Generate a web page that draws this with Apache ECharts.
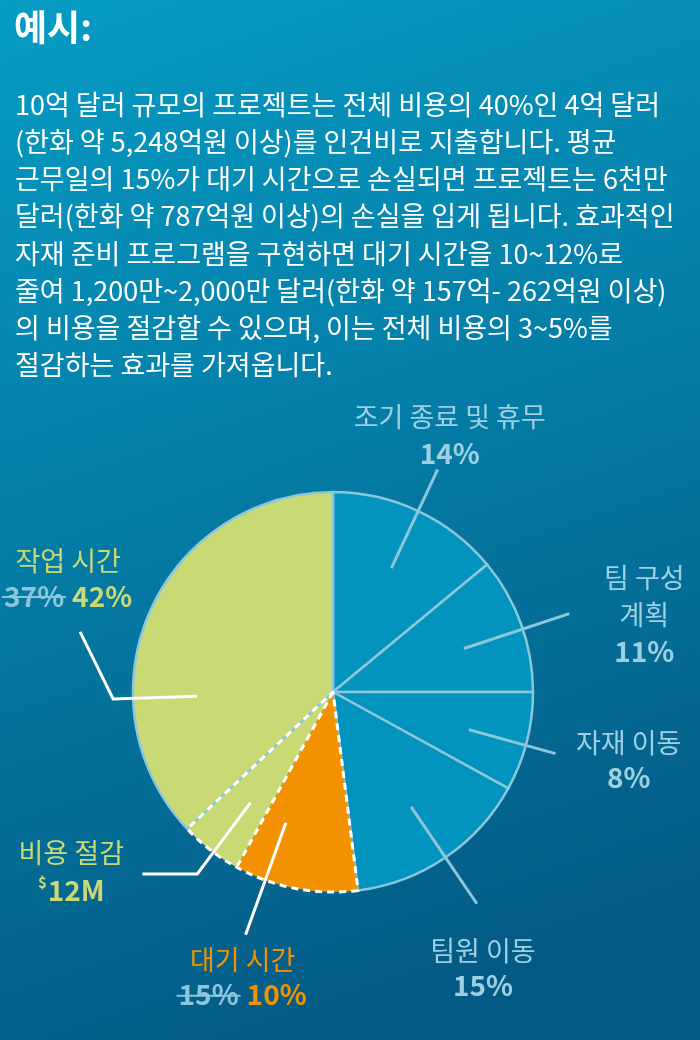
<!DOCTYPE html>
<html>
<head>
<meta charset="utf-8">
<style>
  html, body { margin: 0; padding: 0; }
  #chart { width: 700px; height: 1040px; }
</style>
<script src="https://cdn.jsdelivr.net/npm/echarts@6/dist/echarts.min.js"></script>
</head>
<body>
<div id="chart"></div>
<script>
// slices, clockwise from 12 o'clock
const categories = ['조기 종료 및 휴무', '팀 구성 계획', '자재 이동', '팀원 이동', '대기 시간', '비용 절감', '작업 시간']
const shares = [14, 11, 8, 15, 10, 5, 37]
const labelNames = ['조기 종료 및 휴무', '팀 구성\n계획', '자재 이동', '팀원 이동', '대기 시간', '비용 절감', '작업 시간']
const oldValues = ['', '', '', '', '15%', '', '37%']
const newValues = ['14%', '11%', '8%', '15%', '10%', '$12M', '42%']

const titleText = '예시:'
const bodyLines = [
  '10억 달러 규모의 프로젝트는 전체 비용의 40%인 4억 달러',
  '(한화 약 5,248억원 이상)를 인건비로 지출합니다. 평균',
  '근무일의 15%가 대기 시간으로 손실되면 프로젝트는 6천만',
  '달러(한화 약 787억원 이상)의 손실을 입게 됩니다. 효과적인',
  '자재 준비 프로그램을 구현하면 대기 시간을 10~12%로',
  '줄여 1,200만~2,000만 달러(한화 약 157억- 262억원 이상)',
  '의 비용을 절감할 수 있으며, 이는 전체 비용의 3~5%를',
  '절감하는 효과를 가져옵니다.'
]

const FONT = '"Noto Sans CJK KR", "Noto Sans", sans-serif'
const BLUE = '#0294be'
const BLUE_EDGE = '#8cc6db'
const BLUE_TEXT = '#9fd0e2'
const GREEN = '#c9da74'
const ORANGE = '#f39200'
const WHITE = '#ffffff'

const sliceColors = [BLUE, BLUE, BLUE, BLUE, ORANGE, GREEN, GREEN]
const framed = [true, true, true, true, false, false, true]
const dashedFrom = 4 // 대기 시간 + 비용 절감 = the old 15%

// leader line + label placement, offsets in px from the line end
const leaderStyle = [
  { shift: 0, r0: 137, r1: 246, line: BLUE_EDGE, color: BLUE_TEXT, dx: 12, nameY: -53, valueY: -16 },
  { shift: 0.4, r0: 138, r1: 249, line: BLUE_EDGE, color: BLUE_TEXT, dx: 75, nameY: -17, valueY: 38 },
  { shift: 0.3, r0: 141, r1: 231, line: BLUE_EDGE, color: BLUE_TEXT, dx: 73, nameY: -11, valueY: 24 },
  { shift: 0, r0: 139, r1: 256, line: BLUE_EDGE, color: BLUE_TEXT, dx: 6, nameY: 47, valueY: 82 },
  { shift: 2.5, r0: 139, r1: 258, line: WHITE, color: ORANGE, dx: -3, nameY: 25, valueY: 60 },
  { shift: -0.3, r0: 138, r1: 227, line: WHITE, color: GREEN, dx: -71, nameY: -21, valueY: 16, tail: [-55, 0] },
  { shift: -7, r0: 136, r1: 220, line: WHITE, color: GREEN, dx: -12, nameY: -71, valueY: -36, tail: [-33, -67] }
]

const cumulative = [0]
shares.forEach((v, i) => cumulative.push(cumulative[i] + v))

const measureCtx = document.createElement('canvas').getContext('2d')
function textWidth(str, font) {
  measureCtx.font = font
  return measureCtx.measureText(str).width
}

const NAME_FONT = '27px ' + FONT
const VALUE_FONT = 'bold 28px ' + FONT
const SUP_FONT = 'bold 15px ' + FONT

function renderLeader(params, api) {
  const i = params.dataIndex
  const cfg = leaderStyle[i]
  const a = api.value(1)
  const p0 = api.coord([cfg.r0, a])
  const p1 = api.coord([api.value(0), a])
  const pts = [[p0[0], p0[1]], [p1[0], p1[1]]]
  let end = pts[1]
  if (cfg.tail) {
    end = [p1[0] + cfg.tail[0], p1[1] + cfg.tail[1]]
    pts.push(end)
  }
  const cx = end[0] + cfg.dx
  const children = [{
    type: 'polyline',
    shape: { points: pts },
    style: { stroke: cfg.line, lineWidth: 3, fill: null }
  }, {
    type: 'text',
    x: cx,
    y: end[1] + cfg.nameY,
    style: {
      text: labelNames[i], font: NAME_FONT, fill: cfg.color,
      align: 'center', verticalAlign: 'middle', lineHeight: 37
    }
  }]

  const vy = end[1] + cfg.valueY
  const oldText = oldValues[i]
  let newText = newValues[i]
  let prefix = ''
  if (newText.charAt(0) === '$') {
    prefix = '$'
    newText = newText.slice(1)
  }
  const gap = 8
  const wOld = oldText ? textWidth(oldText, VALUE_FONT) : 0
  const wPre = prefix ? textWidth(prefix, SUP_FONT) + 1 : 0
  const wNew = textWidth(newText, VALUE_FONT)
  let x = cx - (wOld + (oldText ? gap : 0) + wPre + wNew) / 2
  if (oldText) {
    children.push({
      type: 'text', x: x, y: vy,
      style: { text: oldText, font: VALUE_FONT, fill: BLUE_EDGE, align: 'left', verticalAlign: 'middle' }
    })
    children.push({
      type: 'line',
      shape: { x1: x - 2, y1: vy + 1, x2: x + wOld + 2, y2: vy + 1 },
      style: { stroke: BLUE_EDGE, lineWidth: 2 }
    })
    x += wOld + gap
  }
  if (prefix) {
    children.push({
      type: 'text', x: x, y: vy - 8,
      style: { text: prefix, font: SUP_FONT, fill: cfg.color, align: 'left', verticalAlign: 'middle' }
    })
    x += wPre
  }
  children.push({
    type: 'text', x: x, y: vy,
    style: { text: newText, font: VALUE_FONT, fill: cfg.color, align: 'left', verticalAlign: 'middle' }
  })
  return { type: 'group', children: children }
}

function renderDivider(params, api) {
  const c = api.coord([0, api.value(1)])
  const p = api.coord([api.value(0), api.value(1)])
  return {
    type: 'line',
    shape: { x1: c[0], y1: c[1], x2: p[0], y2: p[1] },
    style: { stroke: WHITE, lineWidth: 3, lineDash: [7, 5] }
  }
}

const chart = echarts.init(document.getElementById('chart'), null, { renderer: 'canvas' })

const CENTER = [333, 692]
const RADIUS = 200

chart.setOption({
  animation: false,
  backgroundColor: {
    type: 'linear', x: 0, y: 0, x2: 0.5, y2: 1,
    colorStops: [
      { offset: 0, color: '#069cc4' },
      { offset: 1, color: '#035a84' }
    ]
  },
  title: [{
    text: titleText,
    left: 14,
    top: 5,
    padding: 0,
    textStyle: { color: WHITE, fontSize: 36, fontWeight: 'bold', fontFamily: FONT, lineHeight: 44 }
  }, {
    text: bodyLines.join('\n'),
    left: 15,
    top: 86,
    padding: 0,
    textStyle: { color: WHITE, fontSize: 27, fontWeight: 'normal', fontFamily: FONT, lineHeight: 37.2 }
  }],
  polar: { center: CENTER, radius: 300 },
  angleAxis: { type: 'value', min: 0, max: 100, startAngle: 90, clockwise: true, show: false },
  radiusAxis: { type: 'value', min: 0, max: 300, show: false },
  series: [{
    type: 'pie',
    center: CENTER,
    radius: RADIUS,
    startAngle: 90,
    clockwise: true,
    silent: true,
    z: 2,
    label: { show: false },
    labelLine: { show: false },
    data: categories.map((name, i) => ({
      name: name,
      value: shares[i],
      itemStyle: {
        color: sliceColors[i],
        borderColor: BLUE_EDGE,
        borderWidth: framed[i] ? 2.5 : 0
      }
    }))
  }, {
    // dashed outline of the old 15% waiting slice
    type: 'pie',
    center: CENTER,
    radius: RADIUS,
    startAngle: 90,
    clockwise: true,
    silent: true,
    z: 3,
    label: { show: false },
    labelLine: { show: false },
    data: shares.slice(0, dashedFrom).concat([shares[dashedFrom] + shares[dashedFrom + 1], shares[dashedFrom + 2]])
      .map((v, i) => ({
        value: v,
        itemStyle: {
          color: 'rgba(0,0,0,0)',
          borderColor: WHITE,
          borderWidth: i === dashedFrom ? 3 : 0,
          borderType: [7, 5]
        }
      }))
  }, {
    type: 'custom',
    coordinateSystem: 'polar',
    silent: true,
    z: 4,
    renderItem: renderDivider,
    data: [[RADIUS, cumulative[dashedFrom + 1]]]
  }, {
    type: 'custom',
    coordinateSystem: 'polar',
    silent: true,
    z: 5,
    renderItem: renderLeader,
    data: categories.map((name, i) => {
      let mid = cumulative[i] + shares[i] / 2 + leaderStyle[i].shift
      return [leaderStyle[i].r1, mid]
    })
  }]
})
</script>
</body>
</html>
